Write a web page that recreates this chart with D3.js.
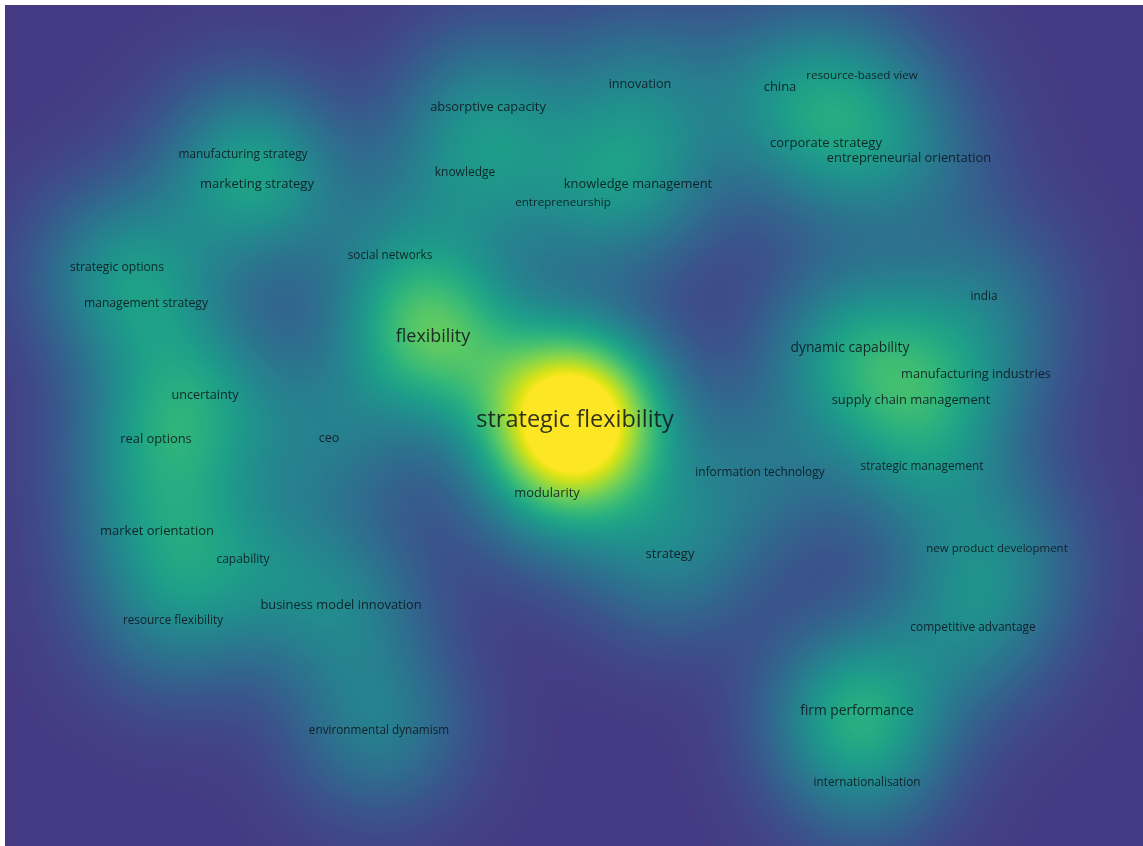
<!DOCTYPE html>
<html>
<head>
<meta charset="utf-8">
<title>Density map</title>
<script src="https://cdn.jsdelivr.net/npm/d3@7"></script>
<style>
  body { margin: 0; background: #fff; }
  #wrap { position: relative; width: 1143px; height: 846px; }
  #wrap canvas, #wrap svg { position: absolute; left: 0; top: 0; }
</style>
</head>
<body>
<div id="wrap"></div>
<script>
// Keywords, map coordinates (map units, y pointing down), density weights and occurrences
var labels = ["strategic flexibility", "flexibility", "innovation", "absorptive capacity", "china",
  "resource-based view", "corporate strategy", "entrepreneurial orientation", "manufacturing strategy",
  "marketing strategy", "knowledge", "knowledge management", "entrepreneurship", "social networks",
  "strategic options", "management strategy", "india", "dynamic capability", "manufacturing industries",
  "supply chain management", "uncertainty", "real options", "ceo", "information technology",
  "strategic management", "modularity", "market orientation", "capability", "strategy",
  "new product development", "business model innovation", "resource flexibility",
  "competitive advantage", "firm performance", "environmental dynamism", "internationalisation"];
var xs = [0.01, -1.41, 0.66, -0.86, 2.06, 2.88, 2.52, 3.35, -3.31, -3.17, -1.09, 0.64, -0.11, -1.84,
  -4.57, -4.28, 4.10, 2.76, 4.02, 3.37, -3.69, -4.18, -2.45, 1.86, 3.48, -0.27, -4.17, -3.31, 0.96,
  4.23, -2.33, -4.01, 3.99, 2.83, -1.95, 2.93];
var ys = [-0.08, -0.91, -3.42, -3.20, -3.40, -3.51, -2.84, -2.69, -2.73, -2.43, -2.54, -2.43, -2.24,
  -1.72, -1.59, -1.23, -1.31, -0.79, -0.53, -0.27, -0.31, 0.12, 0.12, 0.45, 0.39, 0.66, 1.04, 1.33,
  1.27, 1.22, 1.78, 1.93, 2.00, 2.84, 3.03, 3.55];
var weights = [1.15, 0.60, 0.22, 0.25, 0.20, 0.15, 0.25, 0.20, 0.15, 0.33, 0.20, 0.30, 0.15, 0.15,
  0.25, 0.20, 0.18, 0.36, 0.15, 0.25, 0.27, 0.27, 0.22, 0.20, 0.20, 0.20, 0.25, 0.20, 0.28,
  0.22, 0.28, 0.22, 0.25, 0.45, 0.28, 0.15];
var occurrences = [100, 56, 14, 16, 17, 6, 17, 16, 8, 17, 9, 16, 6, 7, 10, 10, 7, 23, 15, 16, 14, 16,
  13, 8, 7, 16, 17, 9, 17, 5, 16, 7, 8, 23, 7, 7];

var width = 1143, height = 846;
var bandwidth = 0.62; // kernel width in map units

var x = d3.scaleLinear().domain([-5.69, 5.69]).range([5, 1143]);
var y = d3.scaleLinear().domain([-4.205, 4.205]).range([5, 846]);
var color = d3.scaleSequential(d3.interpolateViridis).domain([-0.205, 1]).clamp(true);
var fontSize = d3.scaleLinear().domain([5, 100]).range([11.5, 23.5]);

var items = labels.map(function(d, i) {
  return { label: d, px: x(xs[i]), py: y(ys[i]), w: weights[i], occ: occurrences[i] };
});

// Density surface on a canvas
var wrap = d3.select("#wrap");
var canvas = wrap.append("canvas").attr("width", width).attr("height", height);
var ctx = canvas.node().getContext("2d");
ctx.fillStyle = "#fff";
ctx.fillRect(0, 0, width, height);

var x0 = Math.round(x.range()[0]), y0 = Math.round(y.range()[0]);
var w = width - x0, h = height - y0;
var sigma = x(bandwidth) - x(0);
var twoS2 = 2 * sigma * sigma;
var cut = 4 * sigma;
var dens = new Float32Array(w * h);

items.forEach(function(it) {
  var cx = it.px - x0, cy = it.py - y0;
  var i0 = Math.max(0, Math.floor(cx - cut)), i1 = Math.min(w - 1, Math.ceil(cx + cut));
  var j0 = Math.max(0, Math.floor(cy - cut)), j1 = Math.min(h - 1, Math.ceil(cy + cut));
  for (var j = j0; j <= j1; j++) {
    var dy = j + 0.5 - cy;
    for (var i = i0; i <= i1; i++) {
      var dx = i + 0.5 - cx;
      dens[j * w + i] += it.w * Math.exp(-(dx * dx + dy * dy) / twoS2);
    }
  }
});

var img = ctx.createImageData(w, h);
for (var k = 0; k < w * h; k++) {
  var c = d3.rgb(color(dens[k]));
  img.data[k * 4] = c.r;
  img.data[k * 4 + 1] = c.g;
  img.data[k * 4 + 2] = c.b;
  img.data[k * 4 + 3] = 255;
}
ctx.putImageData(img, x0, y0);

// Labels
var svg = wrap.append("svg").attr("width", width).attr("height", height);
svg.selectAll("text")
  .data(items)
  .enter()
  .append("text")
  .attr("x", function(d) { return d.px; })
  .attr("y", function(d) { return d.py; })
  .attr("text-anchor", "middle")
  .attr("dominant-baseline", "central")
  .style("font-family", "'Open Sans', 'Noto Sans', sans-serif")
  .style("font-size", function(d) { return fontSize(d.occ) + "px"; })
  .style("fill", "#0c1219")
  .style("fill-opacity", 0.85)
  .text(function(d) { return d.label; });
</script>
</body>
</html>
